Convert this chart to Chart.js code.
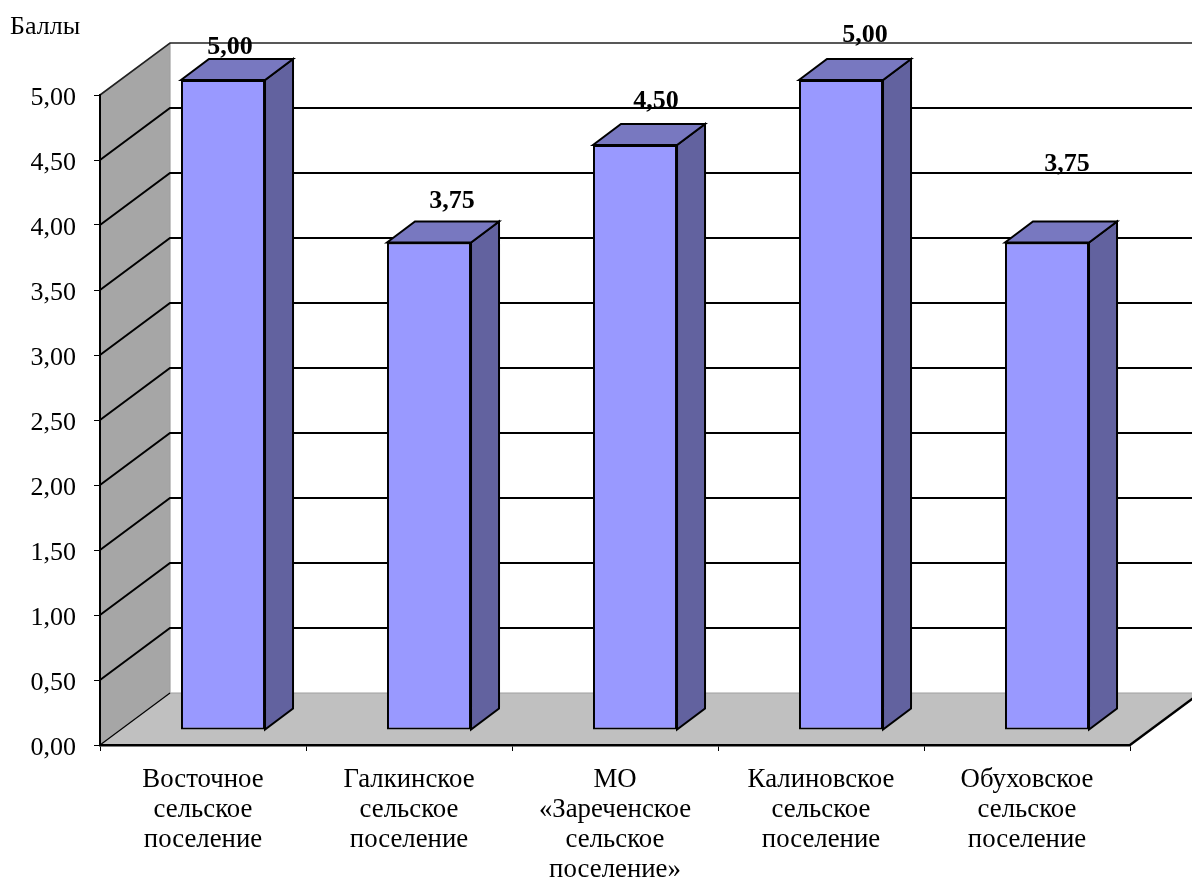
<!DOCTYPE html>
<html lang="ru"><head><meta charset="utf-8">
<style>html,body{margin:0;padding:0;background:#fff}canvas{display:block}</style>
<script src="https://cdn.jsdelivr.net/npm/chart.js@4/dist/chart.umd.js"></script>
</head><body><canvas id="c" width="1192" height="878"></canvas>
<script>
const categories = [
  ["Восточное","сельское","поселение"],
  ["Галкинское","сельское","поселение"],
  ["МО","«Зареченское","сельское","поселение»"],
  ["Калиновское","сельское","поселение"],
  ["Обуховское","сельское","поселение"]
];
const values = [5.00, 3.75, 4.50, 5.00, 3.75];
const yMin = 0, yMax = 5, yStep = 0.5;
const yAxisTitle = "Баллы";

const SERIF = '"Liberation Serif","Times New Roman",serif';
const FONT_SIZE = 26;
const CAT_FONT_SIZE = 26.8;
const WALL = {dx:70, dy:-52};
const BAR_SHIFT = {dx:20, dy:-15};
const BAR_DEPTH = {dx:28, dy:-21};
const labelOffsets = [[27,-48],[43,-56],[41,-59],[44,-60],[40,-93]];
const Y_LABEL_NUDGE = 3;
const fmt = v => Number(v).toFixed(2).replace('.', ',');

function poly(ctx, pts, fill, stroke, lw){
  ctx.beginPath();
  pts.forEach((p,i)=> i?ctx.lineTo(p[0],p[1]):ctx.moveTo(p[0],p[1]));
  ctx.closePath();
  if(fill){ctx.fillStyle=fill;ctx.fill();}
  if(stroke){ctx.strokeStyle=stroke;ctx.lineWidth=lw;ctx.lineJoin='miter';ctx.stroke();}
}

const box3d = {
  id:'box3d',
  beforeDraw(chart){
    const {ctx,scales:{x,y},width} = chart;
    const L=x.left,R=x.right,B=y.getPixelForValue(yMin),T=y.getPixelForValue(yMax);
    const d=WALL;
    y.getLabelItems(chart.chartArea).forEach(it=>{
      if(!it._nudged){it.options.translation[1]+=Y_LABEL_NUDGE;it._nudged=true;}
    });
    ctx.save();
    ctx.fillStyle='#fff';ctx.fillRect(0,0,width,chart.height);
    poly(ctx,[[L,B],[L+d.dx,B+d.dy],[R+d.dx,B+d.dy],[R,B]],'#c0c0c0');
    poly(ctx,[[L,B],[L,T],[L+d.dx,T+d.dy],[L+d.dx,B+d.dy]],'#a6a6a6');
    ctx.strokeStyle='#a0a0a0';ctx.lineWidth=1.2;
    ctx.beginPath();ctx.moveTo(L+d.dx,T+d.dy);ctx.lineTo(L+d.dx,B+d.dy);ctx.lineTo(width,B+d.dy);ctx.stroke();
    y.ticks.forEach(t=>{
      const py=y.getPixelForValue(t.value);
      ctx.lineWidth = t.value===yMin?1.2:(t.value===yMax?1.6:2);
      ctx.strokeStyle = t.value===yMax?'#222':'#000';
      ctx.beginPath();
      ctx.moveTo(L,py);ctx.lineTo(L+d.dx,py+d.dy);
      if(t.value!==yMin) ctx.lineTo(width,py+d.dy);
      ctx.stroke();
    });
    ctx.strokeStyle='#000';ctx.lineWidth=2.4;
    ctx.beginPath();ctx.moveTo(R,B);ctx.lineTo(R+d.dx,B+d.dy);ctx.stroke();
    ctx.restore();
  },
  beforeDatasetDraw(chart){
    const {ctx} = chart, s=BAR_SHIFT, e=BAR_DEPTH;
    ctx.save();
    ctx.translate(s.dx,s.dy);
    chart.getDatasetMeta(0).data.forEach(b=>{
      const hw=b.width/2, l=b.x-hw, r=b.x+hw, t=b.y, bt=b.base;
      poly(ctx,[[r,t],[r+e.dx,t+e.dy],[r+e.dx,bt+e.dy],[r,bt]],'#62629f','#000',2);
      poly(ctx,[[l,t],[l+e.dx,t+e.dy],[r+e.dx,t+e.dy],[r,t]],'#7878c0','#000',2);
    });
  },
  afterDatasetDraw(chart){ chart.ctx.restore(); },
  afterDraw(chart){
    const {ctx} = chart;
    ctx.save();
    ctx.fillStyle='#000';
    ctx.textAlign='center';ctx.textBaseline='middle';
    ctx.font='bold '+FONT_SIZE+'px '+SERIF;
    chart.getDatasetMeta(0).data.forEach((b,i)=>{
      ctx.fillText(fmt(values[i]), b.x+labelOffsets[i][0], b.y+labelOffsets[i][1]);
    });
    ctx.font=FONT_SIZE+'px '+SERIF;
    ctx.textAlign='left';
    ctx.fillText(yAxisTitle,10,27);
    ctx.restore();
  }
};

new Chart(document.getElementById('c'),{
  type:'bar',
  data:{labels:categories,datasets:[{
    data:values,
    backgroundColor:'#9999ff',
    borderColor:'#000',
    borderWidth:2,
    borderSkipped:false,
    barPercentage:0.408,
    categoryPercentage:1,
    clip:false
  }]},
  plugins:[box3d],
  options:{
    responsive:false,animation:false,devicePixelRatio:1,
    layout:{autoPadding:false,padding:{left:0,top:95,right:62,bottom:0}},
    plugins:{legend:{display:false},tooltip:{enabled:false},title:{display:false}},
    scales:{
      x:{
        type:'category',
        afterFit(s){s.height=133;},
        border:{display:true,color:'#000',width:2.5},
        grid:{display:true,drawOnChartArea:false,drawTicks:true,tickLength:6,tickColor:'#000',tickWidth:1,offset:true},
        ticks:{color:'#000',maxRotation:0,minRotation:0,autoSkip:false,padding:14,font:{family:SERIF,size:CAT_FONT_SIZE,lineHeight:1.12}}
      },
      y:{
        min:yMin,max:yMax,
        afterFit(s){s.width=100;},
        border:{display:true,color:'#000',width:2},
        grid:{display:true,drawOnChartArea:false,drawTicks:true,tickLength:6,tickColor:'#000',tickWidth:1},
        ticks:{stepSize:yStep,color:'#000',padding:18,callback:v=>fmt(v),font:{family:SERIF,size:FONT_SIZE}}
      }
    }
  }
});
</script></body></html>
